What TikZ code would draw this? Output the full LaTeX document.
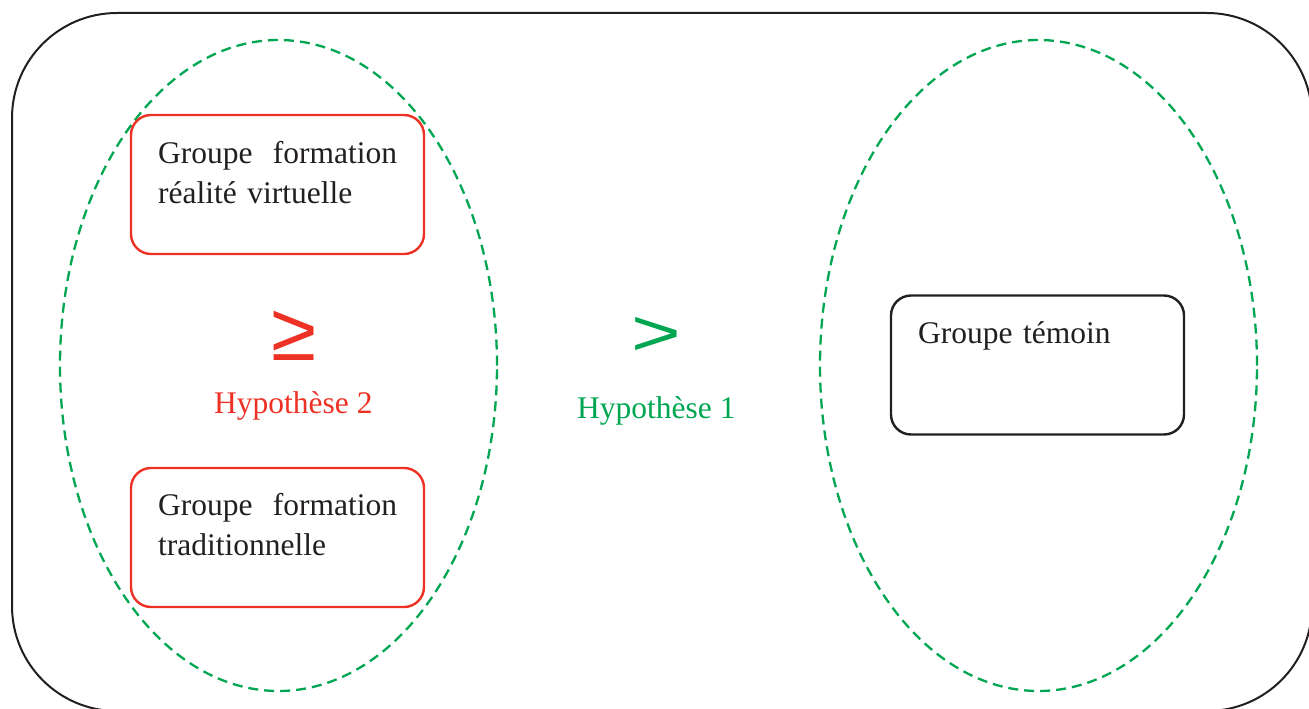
\documentclass[tikz,border=0pt]{standalone}
\usepackage{fontspec}
\setmainfont{Liberation Serif}
\newfontfamily\symfont{Liberation Sans}
\usetikzlibrary{shapes.geometric}
\definecolor{myred}{HTML}{ED3225}
\definecolor{mygreen}{HTML}{00A651}
\definecolor{myblack}{HTML}{231F20}
\tikzset{
  groupbox/.style={draw=#1, line width=2.4pt, rounded corners=20pt, minimum width=293pt, minimum height=139pt, inner sep=0pt},
  grouptext/.style={anchor=base west, inner sep=0pt, text width=239pt, text=myblack, font=\fontsize{31.5}{40}\selectfont},
  hypo/.style={anchor=base west, inner sep=0pt, font=\fontsize{31.5}{40}\selectfont},
  relsign/.style={inner sep=0pt, font=\symfont\fontsize{76}{76}\selectfont},
  setellipse/.style={ellipse, draw=mygreen, line width=2.3pt, dash pattern=on 10pt off 6pt, minimum width=437pt, minimum height=651pt, inner sep=0pt},
}
\begin{document}
\begin{tikzpicture}[x=1pt,y=-1pt]
\useasboundingbox (0,0) rectangle (1309,709);
\clip (0,0) rectangle (1309,709);
% outer frame
\draw[myblack, line width=2pt, rounded corners=105pt] (12,13) rectangle (1312,711);
% sets
\node[setellipse] (setL) at (278.5,365.5) {};
\node[setellipse] (setR) at (1038.5,365.5) {};
% boxes
\node[groupbox=myred] (rv) at (277.5,184.5) {};
\node[grouptext] (rvt) at (158,163) {Groupe\hfill formation\\réalité virtuelle};
\node[groupbox=myred] (tr) at (277.5,537.5) {};
\node[grouptext] (trt) at (158,515) {Groupe\hfill formation\\traditionnelle};
\node[groupbox=myblack] (tm) at (1037.5,365) {};
\node[grouptext] (tmt) at (918,343) {Groupe témoin};
% relations
\node[relsign, text=myred, xscale=1.08, yscale=1.08] (geq) at (294,336) {≥};
\node[hypo, text=myred] (h2) at (214,413) {Hypothèse 2};
\node[relsign, text=mygreen, xscale=1.12, yscale=0.86] (gt) at (656,336) {>};
\node[hypo, text=mygreen] (h1) at (577,418) {Hypothèse 1};
\end{tikzpicture}
\end{document}
